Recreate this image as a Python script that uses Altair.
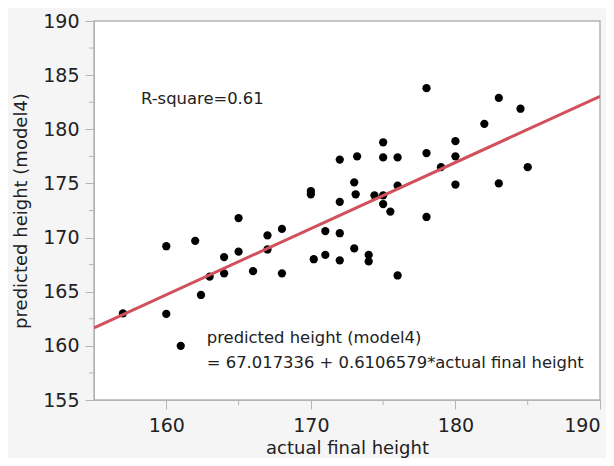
import altair as alt
import pandas as pd

actual = [157, 160, 160, 161, 162, 162.4, 163, 164, 164, 165, 165, 166, 167, 167, 168, 168,
          170, 170, 170.2, 171, 171, 172, 172, 172, 172, 173, 173.2, 173.1, 173, 174, 174,
          174.4, 175, 175, 175, 175, 175.5, 176, 176, 176, 178, 178, 178, 179, 180, 180, 180,
          182, 183, 183, 184.5, 185]
predicted = [163.0, 169.2, 162.95, 160.0, 169.7, 164.7, 166.4, 168.2, 166.7, 171.8, 168.7, 166.9,
             170.2, 168.9, 170.8, 166.7, 174.3, 174.0, 168.0, 170.6, 168.4, 177.2, 173.3, 170.4,
             167.9, 175.1, 177.5, 174.0, 169.0, 168.4, 167.8, 173.9, 173.9, 173.1, 178.8, 177.4,
             172.4, 177.4, 174.8, 166.5, 183.8, 177.8, 171.9, 176.5, 178.9, 177.5, 174.9, 180.5,
             182.9, 175.0, 181.9, 176.5]

intercept = 67.017336
slope = 0.6106579
x_domain = [155, 190]
y_domain = [155, 190]

pts = pd.DataFrame({"actual": actual, "predicted": predicted})
fit = pd.DataFrame({"actual": x_domain,
                    "predicted": [intercept + slope * v for v in x_domain]})

notes = pd.DataFrame({
    "actual": [158.25, 162.8, 162.8],
    "predicted": [182.8, 160.7, 158.4],
    "label": ["R-square=0.61", "predicted height (model4)",
              "= 67.017336 + 0.6106579*actual final height"],
})

FONT = "DejaVu Sans"
x_scale = alt.Scale(domain=x_domain, nice=False, zero=False)
y_scale = alt.Scale(domain=y_domain, nice=False, zero=False)

x_enc = alt.X("actual:Q", scale=x_scale,
              axis=alt.Axis(title="actual final height", values=[160, 170, 180, 190],
                            grid=False, domainColor="#b4b4b4", tickColor="#b4b4b4",
                            tickSize=9, labelFontSize=19, titleFontSize=18,
                            labelColor="#222222", titleColor="#222222",
                            labelPadding=7, titlePadding=4, labelFont=FONT, titleFont=FONT,
                            titleFontWeight="normal"))
y_enc = alt.Y("predicted:Q", scale=y_scale,
              axis=alt.Axis(title="predicted height (model4)",
                            values=[155, 160, 165, 170, 175, 180, 185, 190],
                            grid=False, domainColor="#b4b4b4", tickColor="#b4b4b4",
                            tickSize=9, labelFontSize=19, titleFontSize=18,
                            labelColor="#222222", titleColor="#222222",
                            labelPadding=6, titlePadding=12, labelFont=FONT, titleFont=FONT,
                            titleFontWeight="normal"))

# minor ticks
minor_x = pd.DataFrame({"actual": [165, 175, 185]})
minor_y = pd.DataFrame({"predicted": [157.5, 162.5, 167.5, 172.5, 177.5, 182.5, 187.5]})

mx = alt.Chart(minor_x).mark_rule(color="#b4b4b4").encode(
    x=alt.X("actual:Q", scale=x_scale), y=alt.value(379), y2=alt.value(384))
my = alt.Chart(minor_y).mark_rule(color="#b4b4b4").encode(
    y=alt.Y("predicted:Q", scale=y_scale), x=alt.value(-5), x2=alt.value(0))

points = alt.Chart(pts).mark_circle(size=68, color="black", opacity=1).encode(
    x=x_enc, y=y_enc)
line = alt.Chart(fit).mark_line(color="#d0505c", strokeWidth=3, clip=True).encode(
    x=alt.X("actual:Q", scale=x_scale), y=alt.Y("predicted:Q", scale=y_scale))
text = alt.Chart(notes).mark_text(align="left", baseline="middle", fontSize=16.4,
                                  font=FONT, color="#222222").encode(
    x=alt.X("actual:Q", scale=x_scale), y=alt.Y("predicted:Q", scale=y_scale),
    text="label:N")

chart = alt.layer(points, line, text, mx, my).properties(
    width=506, height=379,
    background="#f5f5f5",
    padding={"left": 86, "top": 13, "right": 6, "bottom": 58},
    autosize=alt.AutoSizeParams(type="none"),
).configure_view(fill="white", stroke="#b4b4b4", strokeWidth=1.5)

chart.save("out.html", embed_options={"renderer": "svg", "actions": False})
